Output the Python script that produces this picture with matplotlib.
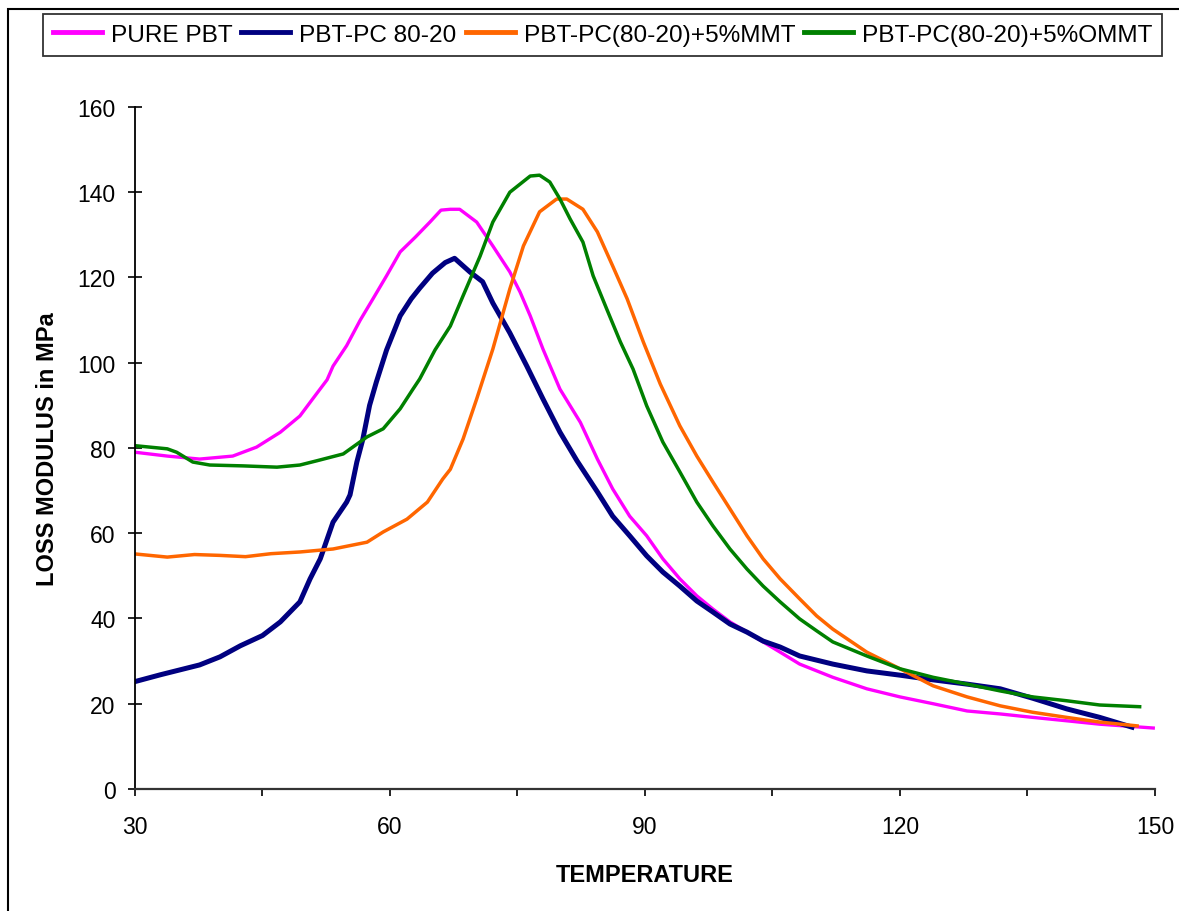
import matplotlib
matplotlib.use("Agg")
import matplotlib.pyplot as plt
from matplotlib.patches import Rectangle

plt.rcParams['font.family'] = ['Liberation Sans', 'DejaVu Sans']

## Data (temperature, loss modulus in MPa)

pbt_t = [30, 33.8, 37.6, 41.5, 44.3, 47.1, 49.4, 50.9, 52.6, 53.3, 54.9, 56.5, 58, 59.6,
         61.2, 63, 64.7, 66, 67.1, 68.2, 70.2, 72.1, 74.1, 75.3, 76.5, 78, 80, 82.4, 84.4,
         86.2, 88.2, 90.2, 92.1, 94.1, 96.1, 98, 100, 102, 103.9, 105.9, 108.2, 112.1,
         116.1, 120, 123.9, 127.9, 131.8, 135.6, 139.6, 143.5, 149.8]
pbt_e = [79, 78.1, 77.4, 78.1, 80.2, 83.7, 87.5, 91.5, 96, 99.2, 104, 110, 115, 120.4,
         126, 129.5, 133, 135.8, 136, 136, 133, 127.4, 121.3, 116.6, 111, 103.2, 93.8, 86,
         77.4, 70.4, 64, 59.4, 54, 49.3, 45.3, 42.2, 39.2, 36.8, 34.5, 32.1, 29.3, 26.2,
         23.5, 21.6, 20, 18.3, 17.6, 16.8, 16, 15.2, 14.3]

pc_t = [30.2, 33, 35, 37.6, 40, 42.4, 45, 47.1, 49.4, 50.6, 51.8, 53.3, 54.9, 55.3, 56.1,
        56.8, 57.6, 58.4, 59.6, 61.2, 62.5, 63.5, 65, 66.5, 67.6, 69.4, 70.9, 72.1, 74.1,
        76.1, 78, 80, 82, 84.4, 86.2, 88.2, 90.2, 92.1, 94.1, 96.1, 98, 100, 102, 103.9,
        105.9, 108.2, 112.1, 116.1, 120, 123.9, 127.9, 131.8, 135.6, 139.6, 143.5, 147.3]
pc_e = [25.3, 26.8, 27.8, 29.1, 31, 33.6, 36, 39.2, 43.9, 49.3, 54, 62.6, 67.3, 69, 76.7,
        82, 90, 95.5, 103, 111, 115, 117.5, 121, 123.5, 124.5, 121.3, 119, 114, 107,
        99.2, 91.5, 83.7, 77, 69.7, 64, 59.4, 54.7, 50.9, 47.6, 44.1, 41.5, 38.7, 36.8, 34.7,
        33.3, 31.2, 29.3, 27.7, 26.7, 25.6, 24.6, 23.5, 21.3, 18.8, 16.8, 14.5]

mmt_t = [30.2, 33.8, 37, 40, 43, 46, 49.4, 53.3, 57.3, 59.2, 62, 64.4, 66.2, 67.1, 68.6,
         70.2, 72.1, 74.1, 75.7, 77.6, 79.6, 80.8, 82.7, 84.4, 86.2, 87.9, 89.8, 91.8, 94.1,
         96.1, 98, 100, 102, 103.9, 105.9, 108.2, 110.2, 112.1, 116.1, 120, 123.9, 127.9,
         131.8, 135.6, 139.6, 143.5, 147.9]
mmt_e = [55.1, 54.4, 55, 54.8, 54.5, 55.2, 55.6, 56.3, 57.9, 60.3, 63.3, 67.3, 72.7, 75, 82.1,
         91.5, 103.2, 117.3, 127.4, 135.4, 138.4, 138.4, 136, 130.7, 122.7, 115, 104.9, 95, 85.2,
         78.1, 72, 65.7, 59.4, 54, 49.3, 44.6, 40.6, 37.5, 32.1, 28.2, 24.2, 21.6,
         19.5, 18, 16.8, 15.7, 14.8]

ommt_t = [30.2, 33.8, 34.9, 36.8, 38.8, 42.7, 46.7, 49.4, 51.4, 54.5, 57.3, 59.2, 61.2, 62.7,
          63.5, 65.3, 67.1, 68.6, 70.6, 72.1, 74.1, 76.5, 77.6, 78.8, 80, 81.2, 82.7, 83.9,
          85.5, 87.1, 88.6, 90.2, 92.1, 94.1, 96.1, 98, 100, 102, 103.9, 105.9, 108.2, 110.2,
          112.1, 116.1, 120, 123.9, 127.9, 131.8, 135.6, 139.6, 143.5, 148.2]
ommt_e = [80.5, 79.8, 79, 76.7, 76, 75.8, 75.5, 76, 77, 78.6, 82.6, 84.5, 89.2, 93.8,
          96.2, 103, 108.6, 115.7, 125, 133, 140, 143.8, 144, 142.4, 138.4, 133.7, 128.3, 120.4,
          112.6, 104.9, 98.5, 89.9, 81.4, 74.4, 67.3, 61.7, 56.3, 51.6, 47.6, 43.9, 39.9, 37.1,
          34.5, 31.2, 28.2, 26.2, 24.6, 23, 21.6, 20.7, 19.7, 19.3]

x_ticks = [30, 60, 90, 120, 150]
y_ticks = [0, 20, 40, 60, 80, 100, 120, 140, 160]

## Plot

fig = plt.figure(figsize=(11.79, 9.12), dpi=100)
ax = fig.add_axes([0.1145, 0.1338, 0.8651, 0.7478])

ax.plot(pbt_t, pbt_e, color='#FF00FF', lw=2.4, label='PURE PBT')
ax.plot(pc_t, pc_e, color='#000080', lw=3.6, label='PBT-PC 80-20')
ax.plot(mmt_t, mmt_e, color='#FF6600', lw=2.5, label='PBT-PC(80-20)+5%MMT')
ax.plot(ommt_t, ommt_e, color='#008000', lw=2.5, label='PBT-PC(80-20)+5%OMMT')

ax.set_xlim(30, 150)
ax.set_ylim(0, 160)
ax.set_xticks(x_ticks)
ax.set_xticks([45, 75, 105, 135], minor=True)
ax.set_yticks(y_ticks)

ax.spines['top'].set_visible(False)
ax.spines['right'].set_visible(False)
ax.spines['left'].set_linewidth(1.3)
ax.spines['bottom'].set_linewidth(1.6)
ax.spines['bottom'].set_color('#333333')

ax.tick_params(axis='y', direction='inout', length=10, width=1.2, pad=9, labelsize=16.5)
ax.tick_params(axis='x', which='both', direction='out', length=5, width=1.2, pad=14, labelsize=16.5)

ax.set_xlabel('TEMPERATURE', fontsize=17, fontweight='bold', labelpad=18)
ax.set_ylabel('LOSS MODULUS in MPa', fontsize=17, fontweight='bold', labelpad=13)

leg = fig.legend(loc='upper left', bbox_to_anchor=(0.0365, 0.9836), ncol=4,
                 fontsize=17.6, frameon=True, fancybox=False, handlelength=2.0,
                 handletextpad=0.37, columnspacing=0.37, borderpad=0.4, borderaxespad=0)
leg.get_frame().set_edgecolor('black')
leg.get_frame().set_linewidth(1.3)
for line in leg.get_lines():
    line.set_linewidth(3.5)

# outer chart-area border
fig.add_artist(Rectangle((0.0068, -0.1), 1.2, 1.089, transform=fig.transFigure,
                         fill=False, lw=1.5, edgecolor='black'))

fig.savefig('out.png', dpi=100)
